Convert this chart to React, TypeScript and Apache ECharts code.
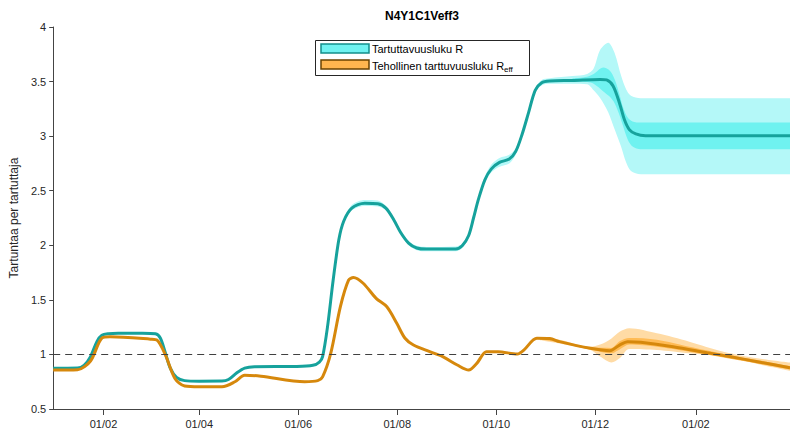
import React, { useEffect, useRef } from "react";
import * as echarts from "echarts";

// x values are days since 2021-01-01
const tickDays = [31, 90, 151, 212, 273, 334, 396];
const tickLabels = ["01/02", "01/04", "01/06", "01/08", "01/10", "01/12", "01/02"];
const yTicks = [0.5, 1, 1.5, 2, 2.5, 3, 3.5, 4];

const rDays = [0, 15, 19, 23, 27, 30, 34, 40, 55, 63, 66, 69, 72, 76, 81, 90, 104, 108, 113, 118, 124, 150, 160, 164, 166, 169, 172.5, 176, 179, 184, 192, 200, 205, 210, 214, 219, 224, 230, 248, 252, 256, 259, 262, 266, 270, 275, 281, 285, 289, 293, 297, 301, 306, 320, 337, 341, 345, 349, 352, 355, 359, 365, 454];
const rValues = [0.873, 0.875, 0.9, 0.98, 1.12, 1.175, 1.19, 1.195, 1.195, 1.19, 1.15, 1.02, 0.88, 0.79, 0.76, 0.755, 0.756, 0.77, 0.83, 0.875, 0.888, 0.89, 0.9, 0.93, 0.98, 1.25, 1.68, 2.05, 2.22, 2.34, 2.385, 2.38, 2.34, 2.23, 2.12, 2.02, 1.975, 1.965, 1.966, 1.995, 2.09, 2.25, 2.42, 2.6, 2.7, 2.76, 2.79, 2.86, 3.02, 3.22, 3.42, 3.49, 3.505, 3.51, 3.52, 3.515, 3.46, 3.3, 3.15, 3.06, 3.02, 3.004, 3.004];

const reffDays = [0, 15, 23, 30, 35, 60, 64, 69, 75, 81, 90, 104, 112, 118, 128, 155, 163, 166, 171, 177, 182, 185, 191, 199, 205.6, 211.7, 216.8, 222, 232, 240, 249, 256, 261, 267, 274, 286, 290, 298, 306, 312, 331, 343, 349, 354, 362, 382, 403, 415, 434, 454];
const reffValues = [0.857, 0.86, 0.94, 1.15, 1.162, 1.14, 1.13, 1.0, 0.78, 0.71, 0.703, 0.704, 0.75, 0.81, 0.8, 0.75, 0.76, 0.795, 1.01, 1.44, 1.68, 1.705, 1.652, 1.514, 1.437, 1.285, 1.148, 1.086, 1.025, 0.979, 0.903, 0.857, 0.918, 1.025, 1.025, 1.004, 1.04, 1.148, 1.145, 1.117, 1.056, 1.034, 1.086, 1.117, 1.111, 1.071, 1.016, 0.985, 0.933, 0.878];

const rOuterDays = [179, 184, 192, 200, 205, 210, 214, 219, 224, 230, 248, 252, 256, 259, 262, 266, 270, 275, 281, 285, 289, 293, 297, 301, 306, 320, 329, 333, 337, 342, 346, 350, 353, 356, 362, 454];
const rOuterLo = [2.2, 2.32, 2.36, 2.355, 2.32, 2.21, 2.1, 2.0, 1.955, 1.945, 1.945, 1.975, 2.07, 2.23, 2.4, 2.58, 2.67, 2.72, 2.75, 2.83, 3.0, 3.2, 3.4, 3.465, 3.48, 3.48, 3.475, 3.42, 3.35, 3.22, 3.06, 2.9, 2.76, 2.68, 2.65, 2.65];
const rOuterHi = [2.24, 2.37, 2.415, 2.41, 2.36, 2.25, 2.14, 2.04, 1.995, 1.985, 1.99, 2.015, 2.11, 2.27, 2.44, 2.63, 2.74, 2.8, 2.83, 2.89, 3.04, 3.24, 3.44, 3.515, 3.53, 3.55, 3.57, 3.62, 3.79, 3.856, 3.76, 3.55, 3.43, 3.37, 3.347, 3.347];

const rInnerDays = [320, 329, 333, 339, 343, 346, 349, 351, 354, 357, 362, 454];
const rInnerLo = [3.5, 3.495, 3.48, 3.41, 3.36, 3.3, 3.19, 3.1, 2.97, 2.905, 2.88, 2.88];
const rInnerHi = [3.53, 3.545, 3.57, 3.63, 3.6, 3.52, 3.38, 3.27, 3.17, 3.135, 3.124, 3.124];

const reffOuterDays = [300, 312, 331, 337, 344, 349, 355, 372, 392, 413, 434, 454];
const reffOuterLo = [1.13, 1.1, 1.04, 0.98, 0.925, 0.964, 1.05, 1.04, 1.01, 0.98, 0.912, 0.85];
const reffOuterHi = [1.16, 1.135, 1.07, 1.09, 1.147, 1.208, 1.239, 1.193, 1.117, 1.025, 0.964, 0.925];

const reffInnerDays = [300, 312, 331, 344, 349, 355, 372, 392, 413, 434, 454];
const reffInnerLo = [1.14, 1.11, 1.045, 1.01, 1.045, 1.09, 1.07, 1.025, 0.972, 0.918, 0.862];
const reffInnerHi = [1.155, 1.125, 1.065, 1.06, 1.12, 1.15, 1.135, 1.07, 1.005, 0.948, 0.894];

const FONT = '"Liberation Sans", Arial, Helvetica, sans-serif';
const TEAL = "#16a29c";
const ORANGE = "#d6880c";

function pairs(xs: number[], ys: number[]) {
  return xs.map((x, i) => [x, ys[i]]);
}

// data as [value, day] so the stacked dimension is y
function band(name: string, xs: number[], lo: number[], hi: number[], color: string, z: number): any[] {
  return [
    {
      type: "line",
      name: name + "_lo",
      stack: name,
      data: xs.map((x, i) => [lo[i], x]),
      encode: { x: 1, y: 0 },
      symbol: "none",
      smooth: 0.3,
      lineStyle: { opacity: 0, width: 0 },
      silent: true,
      z,
    },
    {
      type: "line",
      name: name + "_hi",
      stack: name,
      data: xs.map((x, i) => [hi[i] - lo[i], x]),
      encode: { x: 1, y: 0 },
      symbol: "none",
      smooth: 0.3,
      lineStyle: { opacity: 0, width: 0 },
      areaStyle: { color, opacity: 1 },
      silent: true,
      z,
    },
  ];
}

export default function App() {
  const ref = useRef<HTMLDivElement>(null);
  useEffect(() => {
    if (!ref.current) return;
    const chart = echarts.init(ref.current, undefined, { renderer: "svg" });
    const option: any = {
      animation: false,
      grid: { left: 53, right: 0, top: 27, bottom: 26 },
      xAxis: {
        type: "value",
        min: 0,
        max: 454,
        axisLine: { show: true, lineStyle: { color: "#444", width: 1 } },
        axisTick: { show: true, inside: false, length: 6, lineStyle: { color: "#444" }, customValues: tickDays },
        axisLabel: {
          customValues: tickDays,
          formatter: (v: number) => {
            const i = tickDays.indexOf(v);
            return i >= 0 ? tickLabels[i] : "";
          },
          color: "#262626",
          fontFamily: FONT,
          fontSize: 11,
          margin: 9,
        },
        splitLine: { show: false },
      },
      yAxis: {
        type: "value",
        min: 0.5,
        max: 4,
        interval: 0.5,
        name: "Tartuntaa per tartuttaja",
        nameLocation: "middle",
        nameRotate: 90,
        nameGap: 30,
        nameTextStyle: { fontFamily: FONT, fontSize: 12, color: "#262626" },
        axisLine: { show: true, lineStyle: { color: "#444", width: 1 } },
        axisTick: { show: true, inside: false, length: 4, lineStyle: { color: "#444" }, customValues: yTicks },
        axisLabel: { color: "#262626", fontFamily: FONT, fontSize: 11, margin: 7 },
        splitLine: { show: false },
      },
      series: [
        ...band("rOuter", rOuterDays, rOuterLo, rOuterHi, "#b4f8f8", 1),
        ...band("rInner", rInnerDays, rInnerLo, rInnerHi, "#6ff2f0", 1),
        ...band("reffOuter", reffOuterDays, reffOuterLo, reffOuterHi, "#ffdba5", 1),
        ...band("reffInner", reffInnerDays, reffInnerLo, reffInnerHi, "#ffbb55", 1),
        {
          type: "line",
          name: "ref",
          data: [],
          symbol: "none",
          z: 2,
          markLine: {
            silent: true,
            symbol: "none",
            label: { show: false },
            lineStyle: { color: "#404040", type: [7, 5], width: 1.2 },
            data: [{ yAxis: 1 }],
          },
        },
        {
          type: "line",
          name: "Tartuttavuusluku R",
          data: pairs(rDays, rValues),
          symbol: "none",
          smooth: 0.3,
          lineStyle: { color: TEAL, width: 3 },
          z: 3,
        },
        {
          type: "line",
          name: "Tehollinen tarttuvuusluku Reff",
          data: pairs(reffDays, reffValues),
          symbol: "none",
          smooth: 0.3,
          lineStyle: { color: ORANGE, width: 3 },
          z: 3,
        },
      ],
      graphic: [
        {
          type: "text",
          x: 422,
          y: 16,
          style: {
            text: "N4Y1C1Veff3",
            font: "bold 12px " + FONT,
            fill: "#000",
            align: "center",
            verticalAlign: "middle",
            textAlign: "center",
            textVerticalAlign: "middle",
          },
        },
        {
          type: "rect",
          shape: { x: 315.5, y: 40.5, width: 214, height: 35 },
          style: { fill: "#fff", stroke: "#262626", lineWidth: 1 },
          z: 10,
        },
        {
          type: "rect",
          shape: { x: 321, y: 44, width: 48, height: 9 },
          style: { fill: "#6ff2f0", stroke: "#138f8b", lineWidth: 1.5 },
          z: 11,
        },
        {
          type: "rect",
          shape: { x: 321, y: 60, width: 48, height: 9 },
          style: { fill: "#ffb54f", stroke: "#6a4200", lineWidth: 1.5 },
          z: 11,
        },
        {
          type: "text",
          x: 372,
          y: 48.5,
          z: 11,
          style: {
            text: "Tartuttavuusluku R",
            font: "11px " + FONT,
            fill: "#000",
            verticalAlign: "middle",
            textVerticalAlign: "middle",
          },
        },
        {
          type: "text",
          x: 372,
          y: 65.5,
          z: 11,
          style: {
            text: "Tehollinen tarttuvuusluku R{s|eff}",
            font: "11px " + FONT,
            fill: "#000",
            verticalAlign: "middle",
            textVerticalAlign: "middle",
            rich: {
              s: { fontSize: 8, fontFamily: FONT, fill: "#000", padding: [7, 0, 0, 0] },
            },
          },
        },
      ],
    };
    chart.setOption(option);
    return () => chart.dispose();
  }, []);
  return (
    <div
      ref={ref}
      style={{ position: "fixed", left: 0, top: 0, width: 790, height: 435, background: "#fff" }}
    />
  );
}
